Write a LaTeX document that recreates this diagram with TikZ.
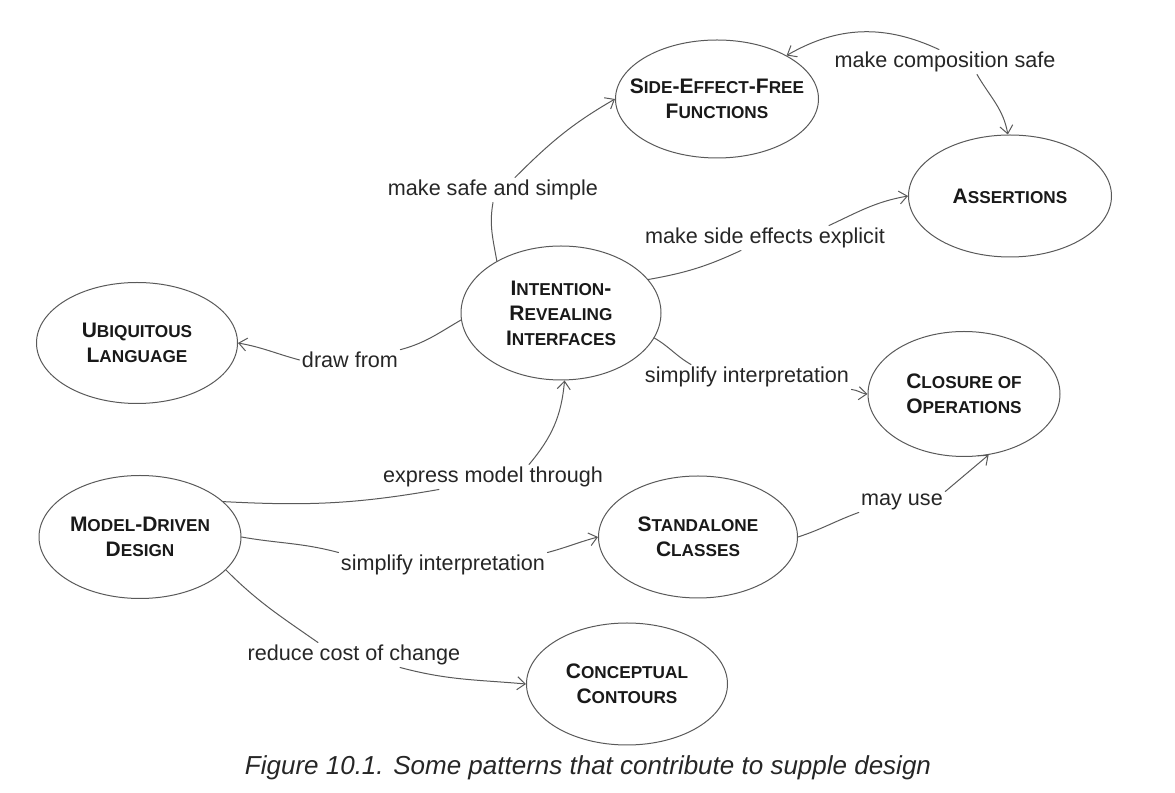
\documentclass[tikz,border=0pt]{standalone}
\usepackage{fontspec}
\setmainfont{Liberation Sans}
\usetikzlibrary{shapes.geometric,arrows.meta}
\newcommand{\sm}[1]{{\fontsize{8.6}{12.5}\selectfont #1}}
\begin{document}
\begin{tikzpicture}[x=0.5pt, y=0.5pt, line join=round, line cap=round, >={Straight Barb[length=4pt,width=6.5pt]},
		pat/.style={ellipse, draw=black!65, line width=0.5pt, inner xsep=-10pt, inner ysep=0pt, align=center, text=black!90, font=\bfseries\fontsize{10.5}{12.5}\selectfont},
		lbl/.style={inner sep=1pt, text=black!85, font=\fontsize{10.8}{12}\selectfont},
		edge/.style={draw=black!65, line width=0.5pt}]
	\useasboundingbox (0,0) rectangle (1175,793);
	% patterns
	\node[pat, minimum width=101.5pt, minimum height=59pt] (sideeffect) at (717,694) {S\sm{IDE}-E\sm{FFECT}-F\sm{REE}\\F\sm{UNCTIONS}};
	\node[pat, minimum width=101.5pt, minimum height=61pt] (assertions) at (1010,597) {A\sm{SSERTIONS}};
	\node[pat, minimum width=100pt, minimum height=67pt] (intention) at (561,480) {I\sm{NTENTION}-\\R\sm{EVEALING}\\I\sm{NTERFACES}};
	\node[pat, minimum width=100.5pt, minimum height=60.5pt] (ubiquitous) at (137,450) {U\sm{BIQUITOUS}\\L\sm{ANGUAGE}};
	\node[pat, minimum width=96pt, minimum height=62.5pt] (closure) at (964,399) {C\sm{LOSURE OF}\\O\sm{PERATIONS}};
	\node[pat, minimum width=101pt, minimum height=61.5pt] (mdd) at (140,256) {M\sm{ODEL}-D\sm{RIVEN}\\D\sm{ESIGN}};
	\node[pat, minimum width=99.5pt, minimum height=61pt] (standalone) at (698,256) {S\sm{TANDALONE}\\C\sm{LASSES}};
	\node[pat, minimum width=100.5pt, minimum height=61pt] (contours) at (627,109) {C\sm{ONCEPTUAL}\\C\sm{ONTOURS}};
	% labels
	\node[lbl] (safe) at (493,603) {make safe and simple};
	\node[lbl] (compose) at (945,731) {make composition safe};
	\node[lbl] (explicit) at (765,555) {make side effects explicit};
	\node[lbl] (drawfrom) at (350,433) {draw from};
	\node[lbl] (simpA) at (747,416) {simplify interpretation};
	\node[lbl] (express) at (493,316) {express model through};
	\node[lbl] (simpB) at (443,228) {simplify interpretation};
	\node[lbl] (mayuse) at (902,291) {may use};
	\node[lbl] (reduce) at (354,138) {reduce cost of change};
	% connectors
	\draw[edge] (intention.141) to[out=100,in=-100] (safe.south);
	\draw[edge,->] ([xshift=11pt]safe.north) to[out=45,in=-150] (sideeffect.180);
	\draw[edge,->] ([xshift=-3pt]compose.north) to[out=155,in=30] (sideeffect.32);
	\draw[edge,->] ([xshift=16pt]compose.south) to[out=-60,in=100] (assertions.92);
	\draw[edge] (intention.21) to[out=10,in=-155] ([xshift=-12pt]explicit.south);
	\draw[edge,->] ([xshift=32pt]explicit.north) to[out=25,in=190] (assertions.180);
	\draw[edge] (intention.184) to[out=-150,in=15] (drawfrom.north east);
	\draw[edge,->] (drawfrom.west) to[out=165,in=-10] (ubiquitous.0);
	\draw[edge] (intention.-15) to[out=-30,in=150] ([xshift=-28pt]simpA.north);
	\draw[edge,->] (simpA.south east) to[out=-5,in=175] (closure.180);
	\draw[edge] (mdd.23) to[out=-3,in=190] ([xshift=-27pt]express.south);
	\draw[edge,->] ([xshift=18pt]express.north) to[out=50,in=-95] (intention.-87);
	\draw[edge] (mdd.east) to[out=-10,in=165] (simpB.north west);
	\draw[edge,->] (simpB.north east) to[out=15,in=195] (standalone.180);
	\draw[edge] (standalone.east) to[out=18,in=200] (mayuse.south west);
	\draw[edge,->] (mayuse.north east) -- (closure.-68);
	\draw[edge] (mdd.-21) to[out=-45,in=145] ([xshift=-18pt]reduce.north);
	\draw[edge,->] ([xshift=23pt]reduce.south) to[out=-15,in=175] (contours.180);
	% caption
	\node[font=\itshape\fontsize{13}{15}\selectfont, text=black!85] (caption) at (588,25) {Figure 10.1. Some patterns that contribute to supple design};
\end{tikzpicture}
\end{document}
